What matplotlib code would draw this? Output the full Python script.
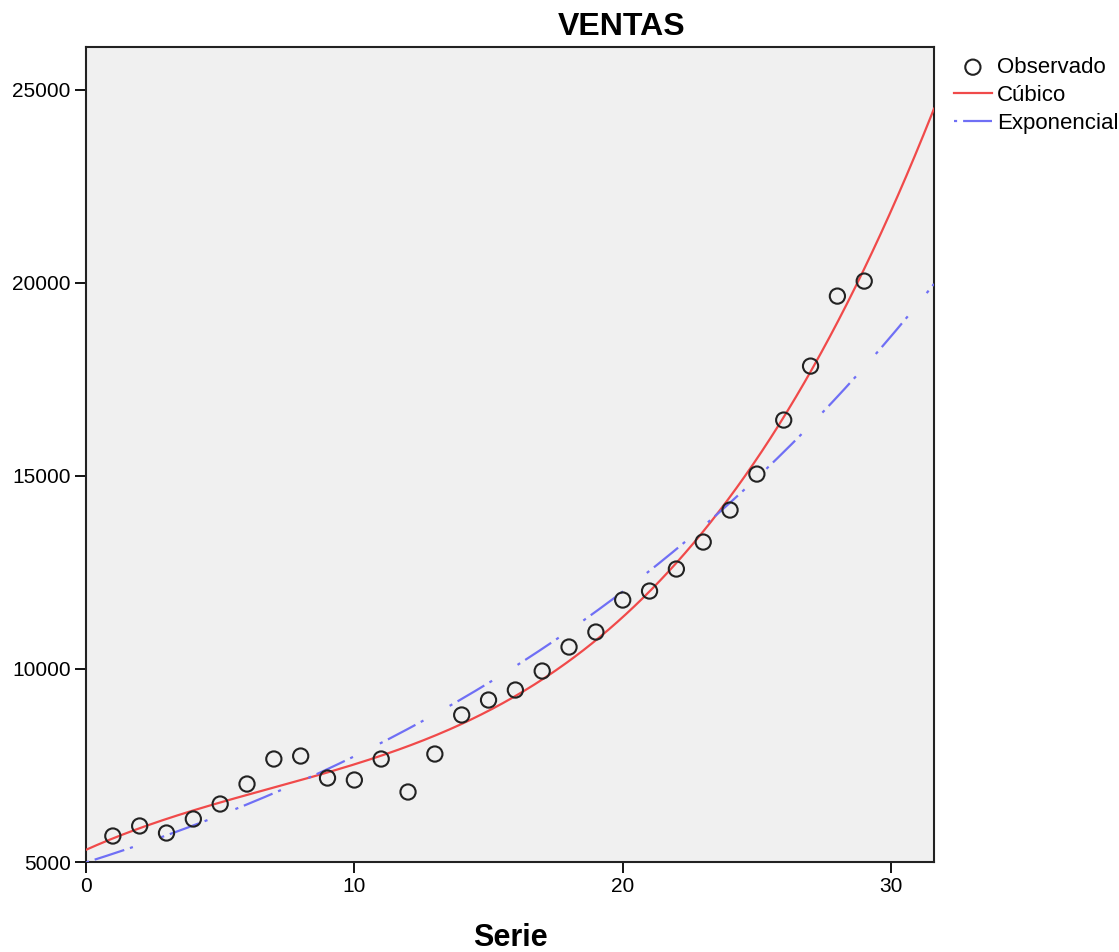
import numpy as np
import matplotlib
matplotlib.use("Agg")
import matplotlib.pyplot as plt

serie = np.arange(1, 30)
ventas = [5673, 5933, 5751, 6114, 6502, 7020, 7668, 7745, 7175, 7124,
          7668, 6813, 7797, 8808, 9196, 9455, 9947, 10569, 10957, 11786,
          12019, 12589, 13288, 14117, 15049, 16448, 17846, 19659, 20048]
x_ticks = [0, 10, 20, 30]
y_ticks = [5000, 10000, 15000, 20000, 25000]

t = np.asarray(serie, float)
yv = np.asarray(ventas, float)
cub = np.polyfit(t, yv, 3)
b1, lnb0 = np.polyfit(t, np.log(yv), 1)

xs = np.linspace(0, 31.6, 400)

plt.rcParams['font.family'] = ['Liberation Sans', 'DejaVu Sans']
W, H = 1119, 952
fig = plt.figure(figsize=(W/100, H/100), dpi=100)
ax = fig.add_axes([86/W, 90/H, (934-86)/W, (862-47)/H])
ax.set_facecolor('#f0f0f0')

ax.plot(xs, np.polyval(cub, xs), color='#f04a4a', lw=1.6, label='Cúbico', zorder=3)
ax.plot(xs, np.exp(lnb0 + b1*xs), color='#6f6ff5', lw=1.6,
        dashes=(1.4, 2.7, 14, 2.7, 1.4, 13.5),
        label='Exponencial', zorder=3)
ax.scatter(serie, ventas, s=120, facecolors='none', edgecolors='#222222', linewidths=1.5,
           label='Observado', zorder=4)

ax.set_xlim(0, 31.6)
ax.set_ylim(5000, 26112)
ax.set_xticks(x_ticks)
ax.set_yticks(y_ticks)
ax.tick_params(direction='out', length=8, width=1.3, labelsize=15, colors='black', pad=3)
for s in ax.spines.values():
    s.set_linewidth(1.5)
    s.set_color('#222222')

fig.text(622/W, (H-35)/H, 'VENTAS', fontsize=23, fontweight='bold',
         ha='center', va='baseline')
fig.text(510/W, (H-946)/H, 'Serie', fontsize=22, fontweight='bold',
         ha='center', va='baseline')

h, l = ax.get_legend_handles_labels()
order = [2, 0, 1]
fig.legend([h[i] for i in order], [l[i] for i in order], loc='upper left',
           bbox_to_anchor=(954/W, (H-57)/H), bbox_transform=fig.transFigure,
           frameon=False, fontsize=16, handlelength=1.7, handletextpad=0.25,
           labelspacing=0.32, borderaxespad=0, borderpad=0)

fig.savefig('out.png', dpi=100)
